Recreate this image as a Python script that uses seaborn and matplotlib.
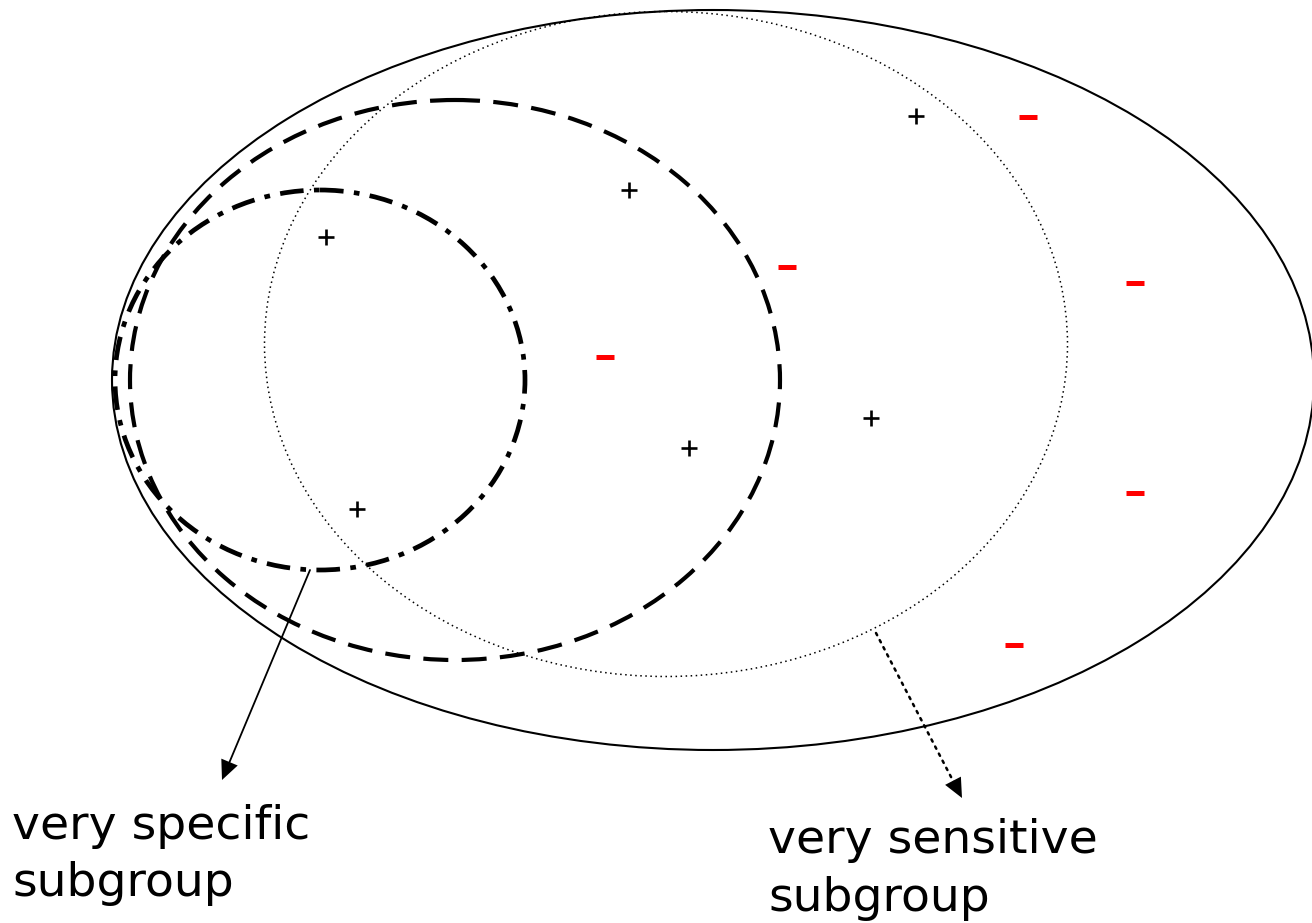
import matplotlib
matplotlib.use("Agg")
import matplotlib.pyplot as plt
from matplotlib.patches import Ellipse
import seaborn as sns

# --------------------------------------------------
# Diagram data (pixel space of the 1312 x 923 picture)
# --------------------------------------------------

plus_x = [916, 629, 326, 689, 871, 357]
plus_y = [116, 190, 237, 448, 418, 509]

minus_x = [1028, 787, 1135, 605, 1135, 1014]
minus_y = [117, 267, 283, 357, 493, 645]

# centre x, centre y, width, height
region_names = ["all", "sensitive", "middle", "specific"]
region_cx = [713, 666, 455, 320]
region_cy = [380, 344, 380, 380]
region_w = [1202, 803, 650, 410]
region_h = [740, 665, 560, 380]

label_lines = [["very specific", "subgroup"], ["very sensitive", "subgroup"]]
label_x = [12, 768]
label_y = [[839, 896], [853, 911]]

arrow_start = [(310, 570), (876, 633)]
arrow_tip = [(222, 780), (962, 798)]

# --------------------------------------------------
# Styles
# --------------------------------------------------

region_style = {
    "all": dict(lw=1.5, ls="-"),
    "sensitive": dict(lw=1.1, ls=(0, (1, 2.3))),
    "middle": dict(lw=3.0, ls=(0, (6, 3.2))),
    "specific": dict(lw=3.4, ls=(0, (5, 2.2, 1.2, 2.2))),
}
arrow_style = [dict(lw=1.3, ls="-"), dict(lw=1.8, ls=(0, (1, 2.2)))]

sns.set_theme(style="white")
plt.rcParams["font.family"] = ["DejaVu Sans"]

fig = plt.figure(figsize=(13.12, 9.23), dpi=100)
ax = fig.add_axes([0, 0, 1, 1])
ax.set_xlim(0, 1312)
ax.set_ylim(923, 0)
ax.axis("off")

for name, cx, cy, w, h in zip(region_names, region_cx, region_cy,
                              region_w, region_h):
    st = region_style[name]
    ax.add_patch(Ellipse((cx, cy), w, h, fill=False, edgecolor="black",
                         linewidth=st["lw"], linestyle=st["ls"]))

sns.scatterplot(x=plus_x, y=plus_y, marker="+", color="black",
                s=130, linewidth=1.9, ax=ax, zorder=5)
sns.scatterplot(x=minus_x, y=minus_y, marker="_", color="#ff0000",
                s=150, linewidth=3.6, ax=ax, zorder=5)

# arrows from the subgroup outlines to their labels:
# shaft drawn with its own line style, head always solid
for (sx, sy), (tx, ty), st in zip(arrow_start, arrow_tip, arrow_style):
    ax.annotate("", xy=(tx, ty), xytext=(sx, sy),
                arrowprops=dict(arrowstyle="-", color="black",
                                lw=st["lw"], linestyle=st["ls"],
                                shrinkA=0, shrinkB=9))
    ax.annotate("", xy=(tx, ty), xytext=(sx, sy),
                arrowprops=dict(arrowstyle="-|>,head_length=0.7,head_width=0.32",
                                color="black", lw=0, mutation_scale=20,
                                shrinkA=0, shrinkB=0))

for lines, x, ys in zip(label_lines, label_x, label_y):
    for text, y in zip(lines, ys):
        ax.text(x, y, text, fontsize=34, color="black",
                ha="left", va="baseline")

fig.savefig("out.png", dpi=100, facecolor="white")
